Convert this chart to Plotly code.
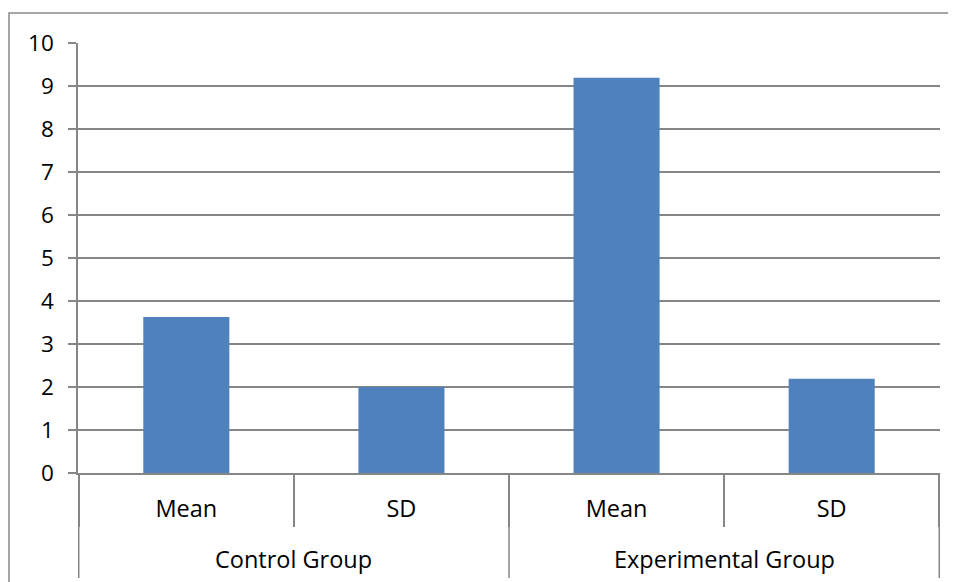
import plotly.graph_objects as go

groups = ["Control Group", "Experimental Group"]
stats = ["Mean", "SD", "Mean", "SD"]
cat_ids = ["Control Group|Mean", "Control Group|SD", "Experimental Group|Mean", "Experimental Group|SD"]
values = [3.63, 2.0, 9.19, 2.19]
y_ticks = list(range(0, 11))

# page body has an 8px margin, so figure coords = reference coords - 8
W, H = 948, 574
L, R, T = 70, 16, 35
pw, ph = 862, 430
B = H - T - ph

def px_x(p):
    return (p - L) / pw

def px_y(q):
    return (T + ph - q) / ph

grid = "#868686"
fam = "Open Sans, Liberation Sans, sans-serif"
xfont = dict(family=fam, size=23.5, color="#000000")
yfont = dict(family=fam, size=22.5, color="#000000")

fig = go.Figure(go.Bar(
    x=cat_ids,
    y=values,
    marker=dict(color="#4F81BD", line=dict(width=0)),
))

shapes = [dict(type="rect", xref="paper", yref="paper",
               x0=px_x(1), x1=px_x(1100), y0=px_y(5), y1=px_y(800),
               line=dict(color="#898989", width=1.5), fillcolor="rgba(0,0,0,0)",
               layer="below")]
# group dividers at category boundaries
for b in [-0.5, 1.5, 3.5]:
    shapes.append(dict(type="line", xref="x", yref="paper", x0=b, x1=b,
                       y0=0, y1=px_y(570), line=dict(color=grid, width=1.5)))

annotations = []
for i, g in enumerate(groups):
    annotations.append(dict(x=2 * i + 0.5, xref="x", y=px_y(551), yref="paper",
                            text=g, showarrow=False, font=xfont,
                            xanchor="center", yanchor="middle"))

fig.update_layout(
    width=W, height=H,
    margin=dict(l=L, r=R, t=T, b=B, autoexpand=False),
    paper_bgcolor="white", plot_bgcolor="white",
    bargap=0.6,
    showlegend=False,
    font=xfont,
    shapes=shapes,
    annotations=annotations,
)

fig.update_xaxes(
    type="category",
    automargin=False,
    tickvals=cat_ids, ticktext=stats,
    showline=True, linecolor=grid, linewidth=2,
    ticks="outside", ticklen=52, tickcolor=grid, tickwidth=1.5,
    tickson="boundaries",
    showgrid=False,
    ticklabelstandoff=14,
    tickfont=xfont,
)

fig.update_yaxes(
    range=[0, 10],
    automargin=False,
    tickvals=y_ticks,
    ticktext=[str(v) for v in y_ticks],
    showline=True, linecolor=grid, linewidth=1.5,
    ticks="outside", ticklen=8, tickcolor=grid, tickwidth=1.5,
    showgrid=True, gridcolor=grid, gridwidth=1.5,
    zeroline=False,
    ticklabelstandoff=10,
    tickfont=yfont,
)

fig.write_html("out.html")
